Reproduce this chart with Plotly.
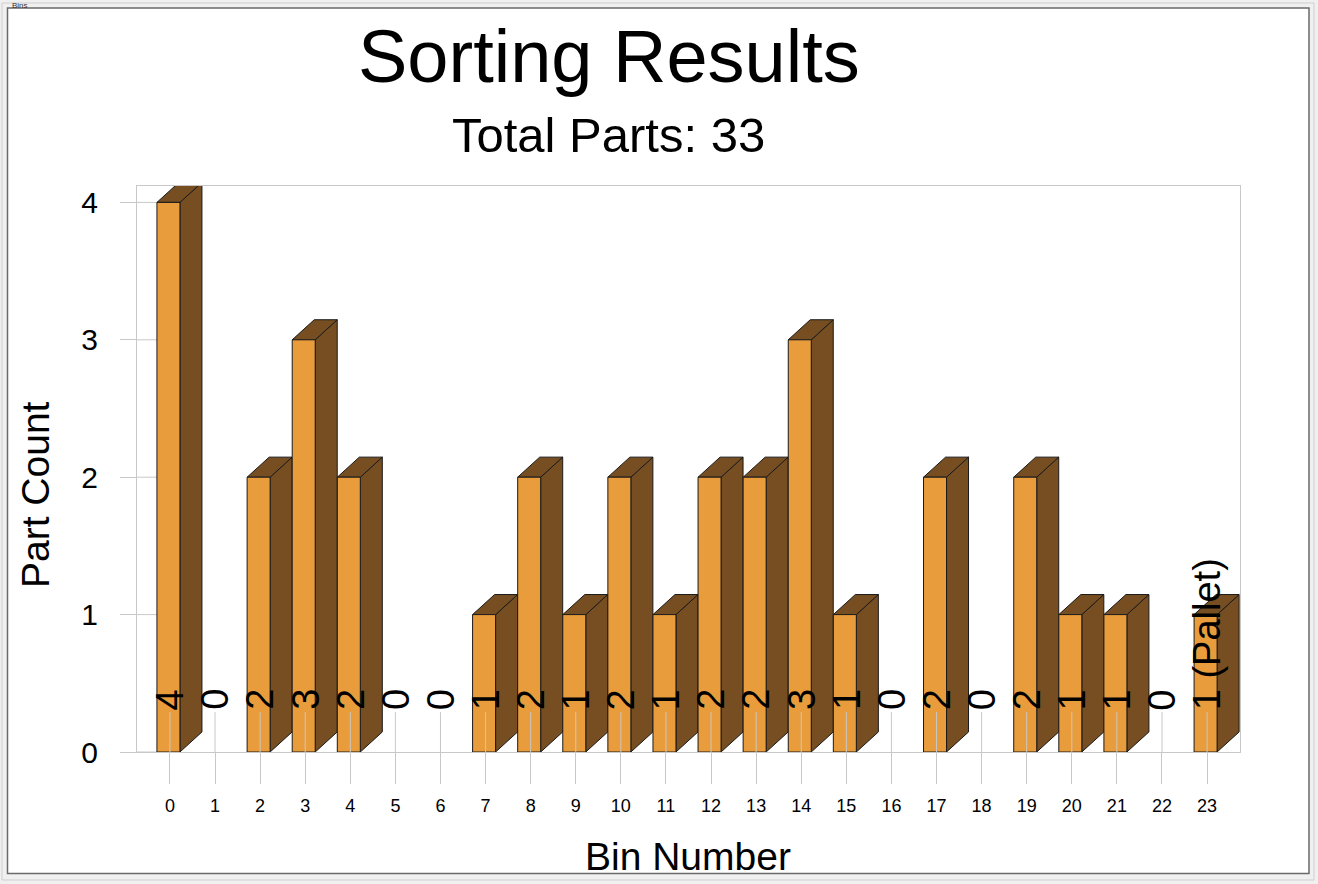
import plotly.graph_objects as go

# ---------------- data ----------------
bins = list(range(24))
counts = [4, 0, 2, 3, 2, 0, 0, 1, 2, 1, 2, 1, 2, 2, 3, 1, 0, 2, 0, 2, 1, 1, 0, 1]
value_labels = [str(c) for c in counts]
value_labels[23] = value_labels[23] + " (Pallet)"
y_ticks = [0, 1, 2, 3, 4]
title_text = "Sorting Results"
subtitle_text = "Total Parts: %d" % sum(counts)

# ---------------- layout geometry ----------------
W, H = 1318, 884
ML, MR, MT, MB = 137, 78, 186, 132
PW = W - ML - MR
PH = H - MT - MB


def px(xp):
    return (xp - ML) / PW


def py(yp):
    return (H - MB - yp) / PH


# 3D bar geometry (in data units)
LEFT, RIGHT = -0.288, 0.222
DX, DY = 0.488, 0.146

FRONT = "#E99C3B"
DARK = "#764E21"
EDGE = "#1A1A1A"

fx, fy, sx, sy, tx, ty = [], [], [], [], [], []
for b, c in zip(bins, counts):
    if c <= 0:
        continue
    l, r = b + LEFT, b + RIGHT
    fx += [l, r, r, l, l, None]
    fy += [0, 0, c, c, 0, None]
    sx += [r, r + DX, r + DX, r, r, None]
    sy += [0, DY, c + DY, c, 0, None]
    tx += [l, r, r + DX, l + DX, l, None]
    ty += [c, c, c + DY, c + DY, c, None]

fig = go.Figure()
for xs, ys, col in [(sx, sy, DARK), (tx, ty, DARK), (fx, fy, FRONT)]:
    fig.add_trace(go.Scatter(x=xs, y=ys, mode="lines", fill="toself",
                             fillcolor=col, line=dict(color=EDGE, width=1),
                             hoverinfo="skip", showlegend=False))

shapes = []
# window / panel frame
shapes.append(dict(type="rect", xref="paper", yref="paper",
                   x0=px(2), x1=px(1314), y0=py(3), y1=py(880),
                   line=dict(color="#CFCFCF", width=1), fillcolor="rgba(0,0,0,0)", layer="below"))
shapes.append(dict(type="rect", xref="paper", yref="paper",
                   x0=px(7.5), x1=px(1309), y0=py(8), y1=py(873.5),
                   line=dict(color="#6A6A6A", width=1.5), fillcolor="white", layer="below"))

# vertical connector lines from value labels to the ticks (inside part)
LABEL_Y = 0.29
for b in bins:
    shapes.append(dict(type="line", xref="x", yref="y", x0=b, x1=b, y0=0, y1=LABEL_Y,
                       line=dict(color="#C8C8C8", width=1), layer="above"))
# short inner extensions of y ticks
for t in y_ticks:
    shapes.append(dict(type="line", xref="x domain", yref="y", x0=0, x1=20 / PW, y0=t, y1=t,
                       line=dict(color="#C8C8C8", width=1), layer="below"))

annotations = []
FONT = "Liberation Sans, Arial, sans-serif"
for b, lab in zip(bins, value_labels):
    annotations.append(dict(x=b, y=LABEL_Y, xref="x", yref="y", text=lab, textangle=-90,
                            showarrow=False, xanchor="center", yanchor="bottom",
                            font=dict(family=FONT, size=38, color="black")))

annotations += [
    dict(x=px(609), y=py(57), xref="paper", yref="paper", text=title_text, showarrow=False,
         xanchor="center", yanchor="middle", font=dict(family=FONT, size=74, color="black")),
    dict(x=px(608), y=py(135), xref="paper", yref="paper", text=subtitle_text, showarrow=False,
         xanchor="center", yanchor="middle", font=dict(family=FONT, size=49, color="black")),
    dict(x=px(35), y=py(494), xref="paper", yref="paper", text="Part Count", showarrow=False,
         textangle=-90, xanchor="center", yanchor="middle",
         font=dict(family=FONT, size=39, color="black")),
    dict(x=px(688), y=py(856), xref="paper", yref="paper", text="Bin Number", showarrow=False,
         xanchor="center", yanchor="middle", font=dict(family=FONT, size=39, color="black")),
    dict(x=px(10), y=py(6), xref="paper", yref="paper", text="Bins", showarrow=False,
         xanchor="left", yanchor="middle", font=dict(family=FONT, size=8, color="#333333")),
]

fig.update_layout(
    width=W, height=H,
    margin=dict(l=ML, r=MR, t=MT, b=MB, pad=0),
    paper_bgcolor="#F0F0F0",
    plot_bgcolor="#F4F4F4",
    showlegend=False,
    shapes=shapes,
    annotations=annotations,
    font=dict(family=FONT, color="black"),
    xaxis=dict(range=[-0.73, 23.73], tickmode="array", tickvals=bins,
               ticktext=[str(b) for b in bins], ticks="outside", ticklen=31,
               tickcolor="#C8C8C8", tickwidth=1, tickfont=dict(size=18, family=FONT),
               ticklabelstandoff=6, showgrid=False, zeroline=False,
               showline=True, mirror=True, linecolor="#C8C8C8", linewidth=1, fixedrange=True),
    yaxis=dict(range=[0, PH / 137.4], tickmode="array", tickvals=y_ticks,
               ticks="outside", ticklen=16, tickcolor="#C8C8C8", tickwidth=1,
               tickfont=dict(size=30, family=FONT), ticklabelstandoff=16,
               showgrid=False, zeroline=False,
               showline=True, mirror=True, linecolor="#C8C8C8", linewidth=1, fixedrange=True),
)

fig.write_html("out.html")
